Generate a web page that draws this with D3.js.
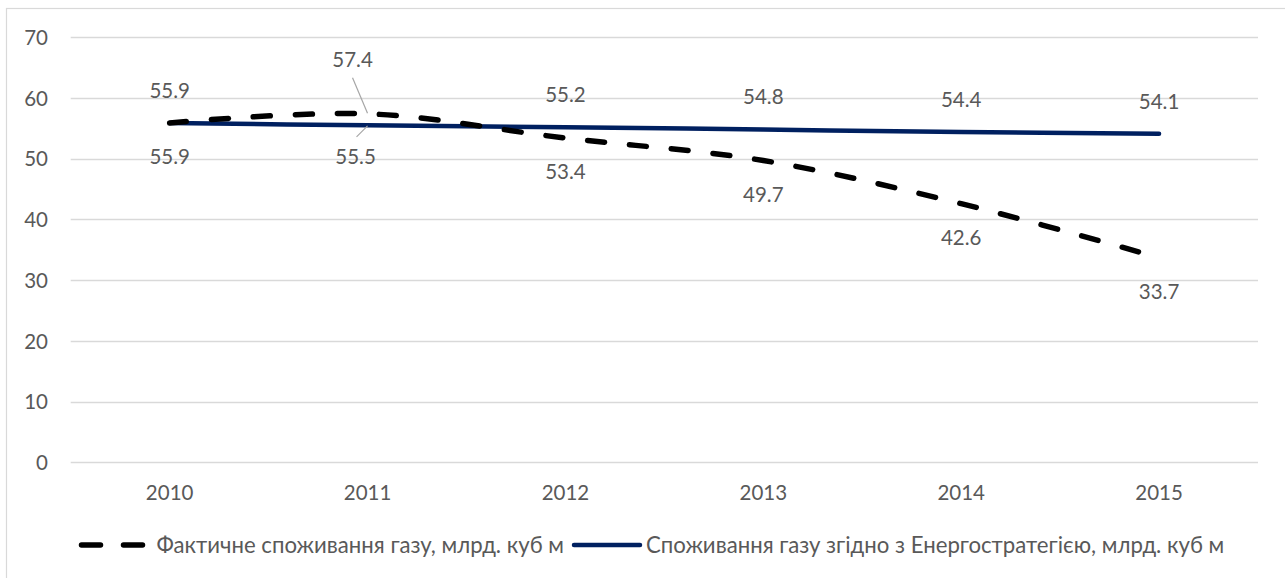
<!DOCTYPE html>
<html>
<head>
<meta charset="utf-8">
<script src="https://cdn.jsdelivr.net/npm/d3@7"></script>
<style>
  html, body { margin: 0; padding: 0; background: #fff; }
  svg { display: block; }
  text { font-family: "Lato", "Liberation Sans", sans-serif; fill: #595959; }
</style>
</head>
<body>
<svg id="chart" width="1285" height="578"></svg>
<script>
// Gas consumption in Ukraine, bcm: actual vs. Energy Strategy projection
const years = ["2010", "2011", "2012", "2013", "2014", "2015"];
const actual = [55.9, 57.4, 53.4, 49.7, 42.6, 33.7];
const strategy = [55.9, 55.5, 55.2, 54.8, 54.4, 54.1];
const yTicks = [0, 10, 20, 30, 40, 50, 60, 70];
const seriesNames = [
  "Фактичне споживання газу, млрд. куб м",
  "Споживання газу згідно з Енергостратегією, млрд. куб м"
];

const W = 1285, H = 578;
const plot = { left: 70.7, right: 1258, top: 37.3, bottom: 462.3 };
const numSize = 20.5;
const legendSize = 22.2;

const svg = d3.select("#chart");

// chart area frame
svg.append("rect")
  .attr("x", 6.5).attr("y", 8.5)
  .attr("width", W + 10).attr("height", H + 10)
  .attr("fill", "none").attr("stroke", "#d9d9d9").attr("stroke-width", 1.2);

const x = d3.scaleBand().domain(years).range([plot.left, plot.right]).padding(0);
const cx = d => x(d) + x.bandwidth() / 2;
const y = d3.scaleLinear().domain([0, 70]).range([plot.bottom, plot.top]);

// horizontal gridlines
svg.append("g").selectAll("line").data(yTicks).join("line")
  .attr("x1", plot.left).attr("x2", plot.right)
  .attr("y1", d => Math.round(y(d)) + 0.5).attr("y2", d => Math.round(y(d)) + 0.5)
  .attr("stroke", "#d9d9d9").attr("stroke-width", 1.3);

// y axis labels
const yAxis = d3.axisLeft(y).tickValues(yTicks).tickSize(0).tickPadding(0);
const gy = svg.append("g").attr("transform", `translate(48,0)`).call(yAxis);
gy.select(".domain").remove();
gy.selectAll("text").attr("font-size", numSize).attr("font-family", null)
  .attr("fill", "#595959").attr("dy", "0.35em");

// x axis labels
const xAxis = d3.axisBottom(x).tickSize(0).tickPadding(0);
const gx = svg.append("g").attr("transform", `translate(0,493)`).call(xAxis);
gx.select(".domain").remove();
gx.selectAll("text").attr("font-size", numSize).attr("font-family", null)
  .attr("fill", "#595959").attr("dy", "0.35em");

const actualPts = years.map((yr, i) => [cx(yr), y(actual[i])]);
const strategyPts = years.map((yr, i) => [cx(yr), y(strategy[i])]);

// projected consumption
svg.append("path")
  .attr("d", d3.line().curve(d3.curveCatmullRom.alpha(0))(strategyPts))
  .attr("fill", "none").attr("stroke", "#002060")
  .attr("stroke-width", 4.5).attr("stroke-linecap", "round");

// actual consumption (smoothed, dashed)
svg.append("path")
  .attr("d", d3.line().curve(d3.curveCatmullRom.alpha(0))(actualPts))
  .attr("fill", "none").attr("stroke", "#000")
  .attr("stroke-width", 5.5).attr("stroke-linecap", "round")
  .attr("stroke-dasharray", "17 25");

// data labels: actual below, projection above (2011 swapped, with leader lines)
const labelAbove = -32.5, labelBelow = 34;
const fmt = d3.format(".1f");

function addLabel(px, py, v, dx, dy) {
  svg.append("text")
    .attr("x", px + dx).attr("y", py + dy)
    .attr("dy", "0.35em").attr("text-anchor", "middle")
    .attr("font-size", numSize).text(fmt(v));
}

years.forEach((yr, i) => {
  const px = cx(yr);
  if (yr === "2011") {
    // leader-line labels
    const pa = [px, y(actual[i])];
    const ps = [px, y(strategy[i])];
    addLabel(pa[0], pa[1], actual[i], -15, -54);
    svg.append("line")
      .attr("x1", pa[0] - 15).attr("y1", pa[1] - 36)
      .attr("x2", pa[0]).attr("y2", pa[1] - 0.5)
      .attr("stroke", "#a6a6a6").attr("stroke-width", 1.2);
    addLabel(ps[0], ps[1], strategy[i], -12, 31);
    svg.append("line")
      .attr("x1", ps[0] - 11).attr("y1", ps[1] + 11.5)
      .attr("x2", ps[0]).attr("y2", ps[1] + 0.5)
      .attr("stroke", "#a6a6a6").attr("stroke-width", 1.2);
  } else {
    addLabel(px, y(actual[i]), actual[i], 0, labelBelow);
    addLabel(px, y(strategy[i]), strategy[i], 0, labelAbove);
  }
});

// legend
const legY = 545;
const leg = svg.append("g");
const symLen = 66;
let lx = 81.5;
[
  { name: seriesNames[0], color: "#000", width: 5.5, dash: "19 23" },
  { name: seriesNames[1], color: "#002060", width: 4.5, dash: null }
].forEach((s, i) => {
  if (i === 1) lx += 10;
  leg.append("line")
    .attr("x1", lx).attr("x2", lx + symLen)
    .attr("y1", legY).attr("y2", legY)
    .attr("stroke", s.color).attr("stroke-width", s.width)
    .attr("stroke-linecap", "round")
    .attr("stroke-dasharray", s.dash);
  const t = leg.append("text")
    .attr("x", lx + symLen + (i === 0 ? 9 : 6)).attr("y", legY)
    .attr("dy", "0.35em").attr("font-size", legendSize).text(s.name);
  lx = lx + symLen + (i === 0 ? 9 : 6) + t.node().getComputedTextLength();
});
</script>
</body>
</html>
